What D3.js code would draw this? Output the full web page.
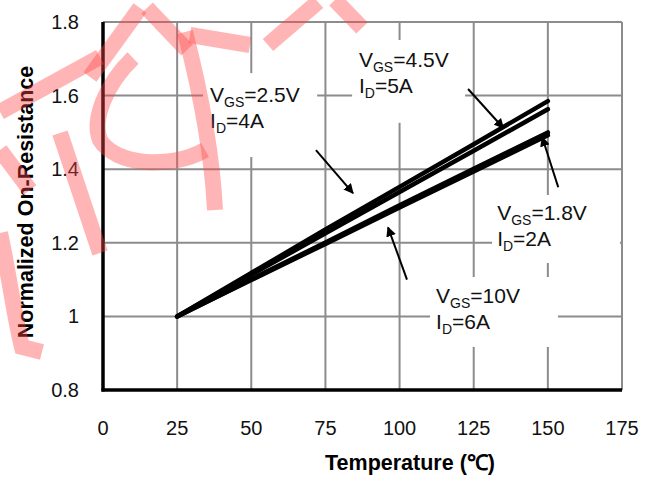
<!DOCTYPE html>
<html>
<head>
<meta charset="utf-8">
<script src="https://cdn.jsdelivr.net/npm/d3@7"></script>
<style>
  body { margin: 0; background: #fff; }
  svg text { font-family: "Liberation Sans", Arial, sans-serif; }
</style>
</head>
<body>
<div class="canvas"></div>
<script>
// Chart data
const xTicks = [0, 25, 50, 75, 100, 125, 150, 175];
const yTicks = [0.8, 1, 1.2, 1.4, 1.6, 1.8];
const temps = [25, 50, 75, 100, 125, 150];
const vgs45 = [1, 1.118, 1.236, 1.352, 1.468, 1.585];
const vgs25 = [1, 1.113, 1.226, 1.338, 1.450, 1.563];
const vgs18 = [1, 1.101, 1.201, 1.302, 1.401, 1.500];
const vgs10 = [1, 1.099, 1.197, 1.296, 1.394, 1.492];

// Labels: [vgs, id, x, y] in data units (text start / baseline of first row)
const labels = [
    ["2.5V", "4A", 36.1, 1.583],
    ["4.5V", "5A", 86.3, 1.678],
    ["1.8V", "2A", 132.9, 1.262],
    ["10V", "6A", 112.3, 1.036]
];
// White boxes behind the labels: [x0, y0, x1, y1] in data units
const boxes = [
    [33.7, 1.661, 72.2, 1.433],
    [84.0, 1.751, 122.1, 1.526],
    [131.2, 1.330, 174.3, 1.145],
    [110.3, 1.107, 153.4, 0.917]
];
// Arrows: [x1, y1, x2, y2] in data units (tail -> head)
const arrows = [
    [71.8, 1.452, 84.3, 1.335],
    [123.1, 1.618, 135.0, 1.512],
    [153.5, 1.351, 148.1, 1.487],
    [102.5, 1.100, 96.1, 1.242]
];

const W = 653, H = 479;

const svg = d3.select(".canvas")
    .append("svg")
    .attr("width", W)
    .attr("height", H);

const x = d3.scaleLinear().domain([0, 175]).range([103, 622]);
const y = d3.scaleLinear().domain([0.8, 1.8]).range([390, 22]);

// Grid
const grid = svg.append("g").attr("stroke", "#8c8c8c").attr("stroke-width", 2);
grid.selectAll(".vg")
    .data(xTicks.slice(1))
    .enter().append("line")
    .attr("x1", d => x(d)).attr("x2", d => x(d))
    .attr("y1", y(1.8)).attr("y2", y(0.8));
grid.selectAll(".hg")
    .data(yTicks.slice(1))
    .enter().append("line")
    .attr("x1", x(0)).attr("x2", x(175))
    .attr("y1", d => y(d)).attr("y2", d => y(d));

// white boxes knock out the grid behind the labels
svg.append("g").selectAll("rect")
    .data(boxes)
    .enter().append("rect")
    .attr("x", d => x(d[0]))
    .attr("y", d => y(d[1]))
    .attr("width", d => x(d[2]) - x(d[0]))
    .attr("height", d => y(d[3]) - y(d[1]))
    .attr("fill", "#fff");

// Axes (left and bottom heavy black)
svg.append("line")
    .attr("x1", x(0)).attr("x2", x(0))
    .attr("y1", y(1.8)).attr("y2", y(0.8) + 1.5)
    .attr("stroke", "#000").attr("stroke-width", 3.5);
svg.append("line")
    .attr("x1", x(0) - 1.5).attr("x2", x(175))
    .attr("y1", y(0.8)).attr("y2", y(0.8))
    .attr("stroke", "#000").attr("stroke-width", 3.5);

// Tick labels
svg.append("g").selectAll("text")
    .data(xTicks)
    .enter().append("text")
    .attr("x", d => x(d))
    .attr("y", 435)
    .attr("text-anchor", "middle")
    .attr("font-size", 20)
    .attr("fill", "#111")
    .text(d => d);
svg.append("g").selectAll("text")
    .data(yTicks)
    .enter().append("text")
    .attr("x", 79)
    .attr("y", d => y(d) + 7)
    .attr("text-anchor", "end")
    .attr("font-size", 20)
    .attr("fill", "#111")
    .text(d => d);

// Axis titles
svg.append("text")
    .attr("x", 410).attr("y", 470)
    .attr("text-anchor", "middle")
    .attr("font-size", 21.5)
    .attr("font-weight", "bold")
    .text("Temperature (℃)");
svg.append("text")
    .attr("transform", "translate(33,202) rotate(-90)")
    .attr("text-anchor", "middle")
    .attr("font-size", 21.5)
    .attr("font-weight", "bold")
    .text("Normalized On-Resistance");

// Curves
const line = d3.line()
    .x((d, i) => x(temps[i]))
    .y(d => y(d));
svg.append("g").selectAll("path")
    .data([vgs45, vgs25, vgs18, vgs10])
    .enter().append("path")
    .attr("d", line)
    .attr("fill", "none")
    .attr("stroke", "#000")
    .attr("stroke-width", 4.5)
    .attr("stroke-linecap", "round");

// Arrows
svg.append("defs").append("marker")
    .attr("id", "head")
    .attr("viewBox", "0 0 10 10")
    .attr("refX", 9).attr("refY", 5)
    .attr("markerWidth", 5).attr("markerHeight", 5)
    .attr("markerUnits", "strokeWidth")
    .attr("orient", "auto")
    .append("path")
    .attr("d", "M0,0 L10,5 L0,10 z")
    .attr("fill", "#000");
svg.append("g").selectAll("line")
    .data(arrows)
    .enter().append("line")
    .attr("x1", d => x(d[0])).attr("y1", d => y(d[1]))
    .attr("x2", d => x(d[2])).attr("y2", d => y(d[3]))
    .attr("stroke", "#000")
    .attr("stroke-width", 2)
    .attr("marker-end", "url(#head)");

// Label text: V_GS=..., I_D=...
const lab = svg.append("g").attr("font-size", 21).attr("fill", "#111");
labels.forEach(d => {
    const t1 = lab.append("text").attr("x", x(d[2])).attr("y", y(d[3]));
    t1.append("tspan").text("V");
    t1.append("tspan").attr("font-size", 14).attr("dy", 5).text("GS");
    t1.append("tspan").attr("dy", -5).text("=" + d[0]);
    const t2 = lab.append("text").attr("x", x(d[2])).attr("y", y(d[3]) + 26);
    t2.append("tspan").text("I");
    t2.append("tspan").attr("font-size", 14).attr("dy", 5).text("D");
    t2.append("tspan").attr("dy", -5).text("=" + d[1]);
});

// Red watermark strokes (semi transparent, over everything)
const marks = [
    "M100,57 L0,112",
    "M60,133 L100,253",
    "M0,233 C10,280 15,320 22,347 L42,352",
    "M90,77 L140,8",
    "M133,58 C105,85 92,120 100,140 C115,165 170,170 205,150",
    "M185,32 C200,90 212,150 215,210",
    "M147,8 L187,50",
    "M190,35 L250,45",
    "M268,45 L318,2",
    "M335,0 L362,28",
    "M0,150 L30,190"
];
svg.append("g").selectAll("path")
    .data(marks)
    .enter().append("path")
    .attr("d", d => d)
    .attr("fill", "none")
    .attr("stroke", "rgb(255,70,70)")
    .attr("stroke-opacity", 0.4)
    .attr("stroke-width", 16);
</script>
</body>
</html>
